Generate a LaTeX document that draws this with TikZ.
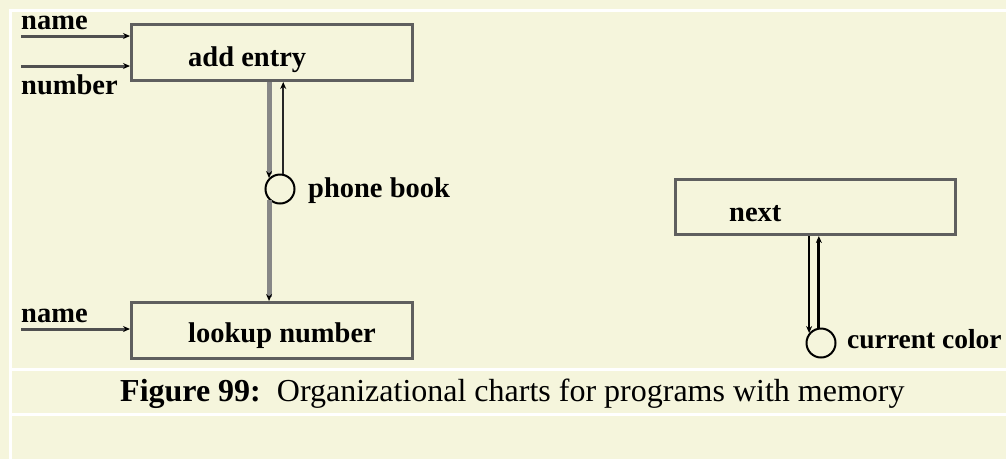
\documentclass[tikz,border=0pt]{standalone}
\usepackage{fontspec}
\setmainfont{Liberation Serif}
\usetikzlibrary{arrows.meta}
\definecolor{bg}{RGB}{245,245,220}
\definecolor{boxline}{RGB}{95,95,95}
\definecolor{thickgray}{RGB}{135,135,135}
\definecolor{inline}{RGB}{80,80,80}
\begin{document}
\begin{tikzpicture}[x=1pt,y=-1pt,
  box/.style={draw=boxline, line width=3pt, fill=bg, inner sep=0pt, anchor=north west},
  lbl/.style={anchor=base west, inner sep=0pt, font=\fontsize{28.5}{30}\selectfont\bfseries},
  tip/.style={-{Stealth[length=7pt,width=6pt,black]}},
  inarrow/.style={draw=inline, line width=3pt, tip},
  store/.style={circle, draw=black, line width=2pt, minimum size=29pt, inner sep=0pt, fill=bg},
  thickflow/.style={draw=thickgray, line width=5pt, tip},
  thinflow/.style={draw=black!85, line width=1.8pt, tip},
  whiteband/.style={fill=white, draw=none}
]
% page and table grid
\clip (0,0) rectangle (1006,459);
\fill[bg] (0,0) rectangle (1006,459);
\fill[whiteband] (8.5,9) rectangle (12,459);
\fill[whiteband] (8.5,9) rectangle (1006,12);
\fill[whiteband] (12,367.5) rectangle (1006,370.5);
\fill[whiteband] (12,412.5) rectangle (1006,415.5);

% boxes
\node[box, minimum width=281pt, minimum height=56pt] (add) at (130,23) {};
\node[box, minimum width=281pt, minimum height=56pt] (lookup) at (130,301) {};
\node[box, minimum width=280pt, minimum height=55pt] (next) at (674,178) {};

% box texts
\node[lbl] (tadd) at (188,66) {add entry};
\node[lbl] (tlookup) at (188,342) {lookup number};
\node[lbl] (tnext) at (729,221) {next};

% stores
\node[store] (pb) at (280,189) {};
\node[store] (cc) at (821,343) {};
\node[lbl] (tpb) at (308,197) {phone book};
\node[lbl, font=\fontsize{27.5}{30}\selectfont\bfseries] (tcc) at (847,348) {current color};

% inputs
\coordinate (n1) at (21,36);
\coordinate (n2) at (21,66);
\coordinate (n3) at (21,329);
\draw[inarrow] (n1) -- (n1 -| add.west);
\draw[inarrow] (n2) -- (n2 -| add.west);
\draw[inarrow] (n3) -- (n3 -| lookup.west);
\node[lbl] (ln1) at (21,29) {name};
\node[lbl] (ln2) at (21,94) {number};
\node[lbl] (ln3) at (21,322) {name};

% flows on the left
\draw[thickflow] (add.south -| pb.135) -- (pb.135);
\draw[thinflow] (pb.78) -- (add.south -| pb.78);
\draw[thickflow] (pb.225) -- (pb.225 |- lookup.north);

% flows on the right
\draw[draw=black, line width=1.5pt, tip] (next.south -| cc.140) -- (cc.140);
\draw[draw=black, line width=3pt, tip] (cc.98) -- (next.south -| cc.98);

% caption
\node[anchor=base west, inner sep=0pt, font=\fontsize{32}{35}\selectfont] (cap) at (120,401)
  {\textbf{Figure 99:}\ \ Organizational charts for programs with memory};
\end{tikzpicture}
\end{document}
